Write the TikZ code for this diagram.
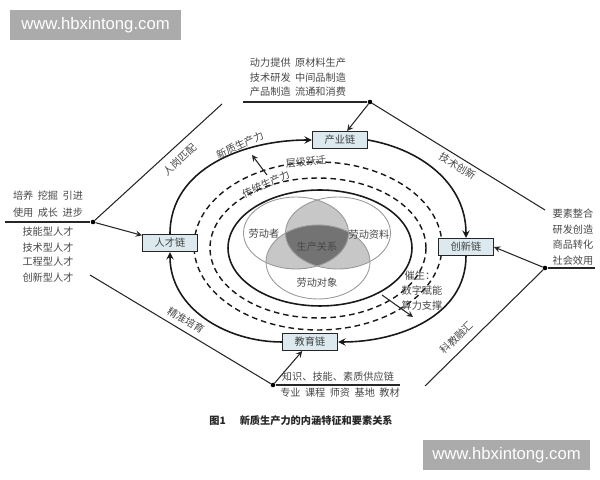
\documentclass[tikz,border=0pt]{standalone}
\usepackage{fontspec}
\setmainfont{Noto Sans CJK SC}
\newfontfamily\wmfont{Liberation Sans}
\usetikzlibrary{arrows,positioning,calc}
\definecolor{boxblue}{HTML}{DCEAEF}
\newcommand{\gp}{\hspace{2.5pt}}

\begin{document}
\begin{tikzpicture}[
      x=0.02cm, y=0.02cm, >=stealth,
      font=\fontsize{5.8}{7}\selectfont,
      chain/.style={draw=black!85, fill=boxblue, line width=0.6pt,
                    minimum width=1.1cm, minimum height=0.34cm,
                    inner sep=0pt, text=black!75},
      lab/.style={text=black!72, inner sep=1pt},
      ring/.style={line width=0.9pt, draw=black!90},
      dring/.style={line width=0.8pt, draw=black!90, dash pattern=on 3.2pt off 2.2pt},
      link/.style={line width=0.6pt, draw=black!85},
      hub/.style={circle, fill=black, inner sep=0pt, minimum size=2.6pt},
      venn/.style={draw=black!40, line width=0.5pt},
      wm/.style={fill=black!33, text=white, inner sep=0pt,
                 font=\wmfont\fontsize{9.5}{11}\selectfont}
    ]
    \useasboundingbox (0,0) rectangle (600,480);
    \node[wm, minimum width=3.42cm, minimum height=0.6cm] (wmtop) at (95.5,455) {www.hbxintong.com};
    \node[wm, minimum width=3.34cm, minimum height=0.6cm] (wmbot) at (506.5,25) {www.hbxintong.com};

    % three factors
    \begin{scope}
      \clip (296,247) ellipse [x radius=1.05cm, y radius=0.72cm];
      \fill[black!22] (338,247) ellipse [x radius=1.05cm, y radius=0.72cm];
      \fill[black!22] (318,218) ellipse [x radius=1.04cm, y radius=0.74cm];
    \end{scope}
    \begin{scope}
      \clip (338,247) ellipse [x radius=1.05cm, y radius=0.72cm];
      \fill[black!22] (318,218) ellipse [x radius=1.04cm, y radius=0.74cm];
    \end{scope}
    \begin{scope}
      \clip (296,247) ellipse [x radius=1.05cm, y radius=0.72cm];
      \clip (338,247) ellipse [x radius=1.05cm, y radius=0.72cm];
      \fill[black!55] (318,218) ellipse [x radius=1.04cm, y radius=0.74cm];
    \end{scope}
    \draw[venn] (296,247) ellipse [x radius=1.05cm, y radius=0.72cm];
    \draw[venn] (338,247) ellipse [x radius=1.05cm, y radius=0.72cm];
    \draw[venn] (318,218) ellipse [x radius=1.04cm, y radius=0.74cm];
    \node[lab] (zhe)  at (264,246) {劳动者};
    \node[lab] (zi)   at (369,245) {劳动资料};
    \node[lab] (guan) at (317,233) {生产关系};
    \node[lab] (dui)  at (317,197) {劳动对象};

    % rings
    \draw[ring]  (320,232) ellipse [x radius=1.84cm, y radius=1.16cm];
    \draw[dring] (318,232) ellipse [x radius=2.16cm, y radius=1.4cm];
    \draw[dring] (318,234) ellipse [x radius=2.48cm, y radius=1.68cm];

    \node[chain] (ren)    at (170,237) {人才链};
    \node[chain] (chan)   at (340,340) {产业链};
    \node[chain] (chuang) at (466,233) {创新链};
    \node[chain] (jiao)   at (310,138) {教育链};
    \draw[ring,->] (ren.north) to[out=90,in=180] (chan.west);
    \draw[ring,->] (chan.east) to[out=-10,in=90] (chuang.north);
    \draw[ring,->] (chuang.south) to[out=-90,in=0] (jiao.east);
    \draw[ring,->] (jiao.west) to[out=180,in=-90] (ren.south);

    \node[lab, rotate=25] (xin)   at (240,335) {新质生产力};
    \node[lab, rotate=5]  (ceng)  at (306,318) {层级跃迁};
    \node[lab, rotate=25] (chuan) at (266,296) {传统生产力};
    \coordinate (up1) at (267,305);
    \coordinate (up2) at (252,325);
    \draw[link,->] (up1) -- (up2);
    \node[lab] (cui)  at (420,204) {催生：};
    \node[lab] (shu)  at (422,189) {数字赋能};
    \node[lab] (suan) at (422,174) {算力支撑};
    \coordinate (dn1) at (382,185);
    \coordinate (dn2) at (413,163);
    \draw[link,->] (dn1) -- (dn2);

    % outer frame
    \node[hub] (ht) at (370,378) {};
    \node[hub] (hl) at (93,258) {};
    \node[hub] (hb) at (273,95) {};
    \node[hub] (hr) at (545,212) {};
    \coordinate (tle) at (243,378);
    \coordinate (rge) at (222,376);
    \coordinate (lle) at (5,258);
    \coordinate (jze) at (90,205);
    \coordinate (ble) at (400,95);
    \coordinate (kje) at (425,94);
    \coordinate (rre) at (595,212);
    \coordinate (jse) at (545,270);
    \draw[link] (lle) -- (hl);
    \draw[link] (hl) -- node[lab, sloped, pos=0.6, below=3pt] {人岗匹配} (rge);
    \draw[link,->] (hl) -- (ren);
    \draw[link] (tle) -- (ht);
    \draw[link,->] (ht) -- (chan);
    \draw[link] (ht) -- node[lab, sloped, pos=0.52, below=1pt] {技术创新} (jse);
    \draw[link] (hr) -- (rre);
    \draw[link,->] (hr) -- (chuang.east);
    \draw[link] (kje) -- node[lab, sloped, pos=0.34, above=3pt] {科教融汇} (hr);
    \draw[link] (hb) -- (ble);
    \draw[link,->] (hb) -- (jiao);
    \draw[link] (jze) -- node[lab, sloped, pos=0.5, above=2pt] {精准培育} (hb);

    \node[lab] (top1) at (298,417) {动力提供\gp 原材料生产};
    \node[lab] (top2) at (298,402) {技术研发\gp 中间品制造};
    \node[lab] (top3) at (298,388) {产品制造\gp 流通和消费};

    \node[lab] (lf1) at (48,284) {培养\gp 挖掘\gp 引进};
    \node[lab] (lf2) at (48,267) {使用\gp 成长\gp 进步};
    \node[lab] (lf3) at (48,248) {技能型人才};
    \node[lab] (lf4) at (48,232) {技术型人才};
    \node[lab] (lf5) at (48,218) {工程型人才};
    \node[lab] (lf6) at (48,202) {创新型人才};

    \node[lab] (rt1) at (573,266) {要素整合};
    \node[lab] (rt2) at (573,250) {研发创造};
    \node[lab] (rt3) at (573,235) {商品转化};
    \node[lab] (rt4) at (573,219) {社会效用};

    \node[lab] (bt1) at (338,103) {知识、技能、素质供应链};
    \node[lab] (bt2) at (340,87) {专业\gp 课程\gp 师资\gp 基地\gp 教材};

    \node[lab, text=black!85, font=\fontsize{5.8}{7}\selectfont\bfseries] (cap) at (301,59) {图1\hspace{8pt}新质生产力的内涵特征和要素关系};
  \end{tikzpicture}
\end{document}
